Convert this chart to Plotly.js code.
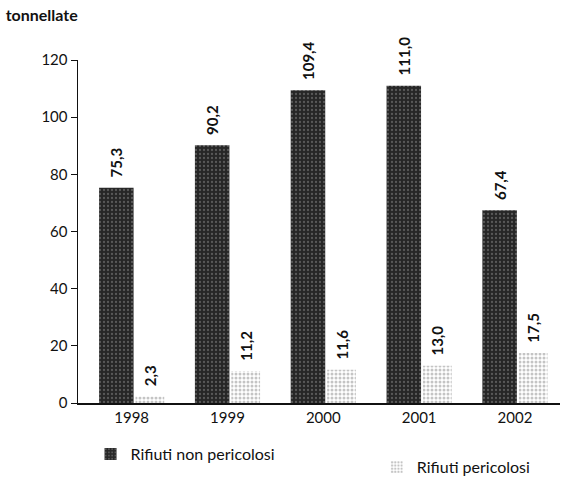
<!DOCTYPE html>
<html>
<head>
<meta charset="utf-8">
<script src="https://cdn.plot.ly/plotly-3.0.1.min.js"></script>
<style>html,body{margin:0;padding:0;background:#fff;}#chart{width:571px;height:483px;}</style>
</head>
<body>
<div id="chart"></div>
<script>
const years = ["1998", "1999", "2000", "2001", "2002"];
const nonPericolosi = [75.3, 90.2, 109.4, 111.0, 67.4];
const pericolosi = [2.3, 11.2, 11.6, 13.0, 17.5];
const yTicks = [0, 20, 40, 60, 80, 100, 120];
const seriesNames = ["Rifiuti non pericolosi", "Rifiuti pericolosi"];

const fmt = v => '\u00a0\u00a0' + v.toFixed(1).replace('.', ',');
const FAM = "Lato, Liberation Sans, sans-serif";
const f = (size, bold) => ({family: FAM, size: size, color: '#111', weight: bold ? 'bold' : 'normal'});

const traces = [
  {
    type: 'bar', x: years, y: nonPericolosi, name: seriesNames[0],
    offset: -0.34, width: 0.36,
    marker: {color: '#2b2b2b', line: {width: 0},
      pattern: {shape: '.', bgcolor: '#262626', fgcolor: '#8c8c8c', size: 4, solidity: 0.25, fillmode: 'overlay'}},
    text: nonPericolosi.map(fmt), textposition: 'outside', textangle: -90, constraintext: 'none',
    textfont: f(15, true), cliponaxis: false, legend: 'legend'
  },
  {
    type: 'bar', x: years, y: pericolosi, name: seriesNames[1],
    offset: 0.04, width: 0.30,
    marker: {color: '#ffffff', line: {width: 0},
      pattern: {shape: '.', bgcolor: '#ffffff', fgcolor: '#8a8a8a', size: 4, solidity: 0.45, fillmode: 'overlay'}},
    text: pericolosi.map(fmt), textposition: 'outside', textangle: -90, constraintext: 'none',
    textfont: f(15, true), cliponaxis: false, legend: 'legend2'
  }
];

const layout = {
  width: 571, height: 483,
  margin: {l: 78, r: 11, t: 60, b: 80, autoexpand: false},
  paper_bgcolor: '#fff', plot_bgcolor: '#fff',
  barmode: 'overlay',
  font: f(15, false),
  title: {text: 'tonnellate', x: 0.01, xanchor: 'left', y: 0.98, yanchor: 'top', font: f(16, true)},
  xaxis: {type: 'category', range: [-0.56, 4.47], showline: true, linecolor: '#111', linewidth: 1.5,
    ticks: '', showgrid: false, zeroline: false, tickfont: f(15, false)},
  yaxis: {range: [0, 120], tickvals: yTicks, ticktext: yTicks.map(String), showline: true, linecolor: '#111',
    linewidth: 1.5, ticks: 'outside', ticklen: 6, tickcolor: '#111', showgrid: false, zeroline: false,
    tickfont: f(15, false)},
  showlegend: true,
  legend: {x: 0.026, xref: 'paper', y: 0.095, yref: 'container', xanchor: 'left', yanchor: 'top', orientation: 'h',
    font: f(16, false), bgcolor: 'rgba(0,0,0,0)'},
  legend2: {x: 0.62, xref: 'paper', y: 0.068, yref: 'container', xanchor: 'left', yanchor: 'top', orientation: 'h',
    font: f(16, false), bgcolor: 'rgba(0,0,0,0)'}
};

Plotly.newPlot('chart', traces, layout, {displayModeBar: false, staticPlot: true});
</script>
</body>
</html>
